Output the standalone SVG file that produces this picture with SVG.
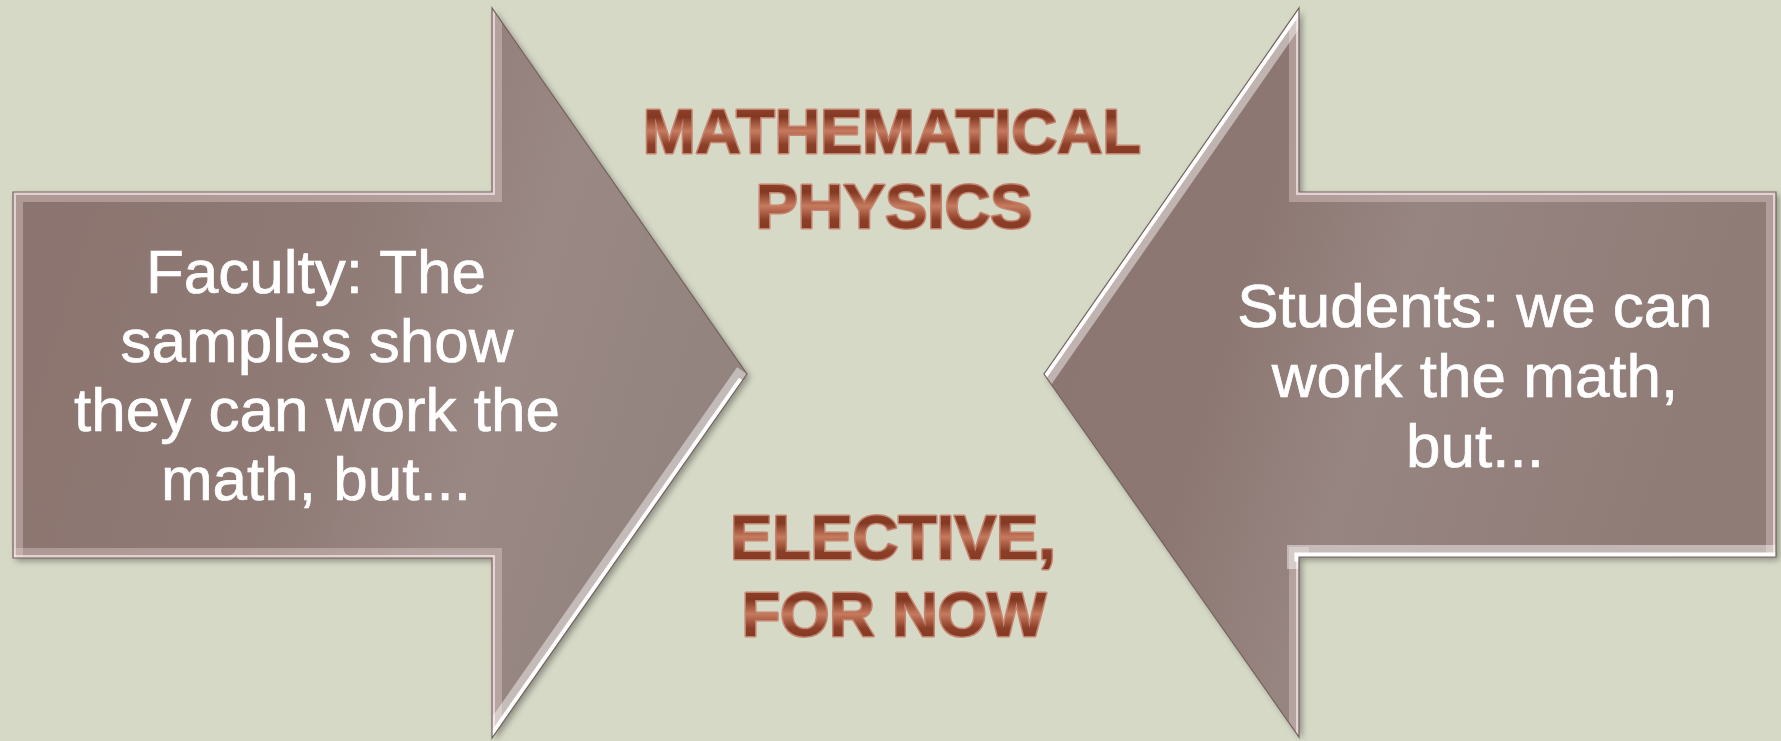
<svg xmlns="http://www.w3.org/2000/svg" width="1781" height="741" viewBox="0 0 1781 741">
<defs>
<style>
.body{font-family:"Liberation Sans",Arial,sans-serif;font-size:62px;fill:#ffffff;stroke:#ffffff;stroke-width:0.7;text-anchor:middle}
.copper{font-family:"Liberation Sans",Arial,sans-serif;font-weight:bold;font-size:63px;text-anchor:middle;fill:url(#cu);stroke:#c48470;stroke-width:3;paint-order:stroke;stroke-linejoin:round}
.hiW{fill:none;stroke:#ffffff;stroke-opacity:0.45;stroke-width:24;stroke-linecap:square}
.hiN{fill:none;stroke:#ffffff;stroke-opacity:1;stroke-width:9;stroke-linecap:square}
.loW{fill:none;stroke:#f0dcdc;stroke-opacity:0.35;stroke-width:20;stroke-linecap:square}
.loN{fill:none;stroke:#f6e8e8;stroke-opacity:0.7;stroke-width:6;stroke-linecap:square}
.edge{fill:none;stroke:#75625e;stroke-width:1.2}
</style>
<linearGradient id="gl" x1="0" y1="0" x2="1" y2="0.3">
<stop offset="0" stop-color="#8b736d"/>
<stop offset="0.5" stop-color="#8f7a75"/>
<stop offset="0.75" stop-color="#9a8884"/>
<stop offset="1" stop-color="#938480"/>
</linearGradient>
<linearGradient id="gr" x1="0" y1="0" x2="1" y2="0.3">
<stop offset="0" stop-color="#8c7671"/>
<stop offset="0.35" stop-color="#8d7772"/>
<stop offset="0.55" stop-color="#978581"/>
<stop offset="1" stop-color="#8f7b76"/>
</linearGradient>
<linearGradient id="cu" x1="0" y1="0" x2="0" y2="1">
<stop offset="0" stop-color="#a24e36"/>
<stop offset="0.3" stop-color="#823822"/>
<stop offset="0.5" stop-color="#c67a5e"/>
<stop offset="0.7" stop-color="#8c3f28"/>
<stop offset="1" stop-color="#7c3420"/>
</linearGradient>
<clipPath id="cl"><polygon points="13,192 492,192 492,8 747,374 492,738 492,558 13,558"/></clipPath>
<clipPath id="cr"><polygon points="1776,192 1299,192 1299,8 1044,374 1299,737 1299,557 1776,557"/></clipPath>
<filter id="sh" x="-5%" y="-5%" width="110%" height="110%">
<feDropShadow dx="3" dy="3" stdDeviation="3" flood-color="#000" flood-opacity="0.35"/>
</filter>
</defs>
<rect width="1781" height="741" fill="#d6d9c6"/>
<g id="connectors"></g>
<g id="faculty">
<polygon points="13,192 492,192 492,8 747,374 492,738 492,558 13,558" fill="url(#gl)" filter="url(#sh)"/>
<g clip-path="url(#cl)">
<polyline class="loW" points="13,558 13,192 492,192 492,8"/>
<polyline class="loN" points="13,558 13,192 492,192 492,8"/>
<polyline class="loW" points="13,558 492,558 492,738"/>
<polyline class="loN" points="13,558 492,558 492,738"/>
<line class="hiW" x1="740" y1="384" x2="492" y2="738"/>
<line class="hiN" x1="740" y1="384" x2="492" y2="738"/>
</g>
<polygon class="edge" points="13,192 492,192 492,8 747,374 492,738 492,558 13,558"/>
<text class="body" x="316" y="293">Faculty: The</text>
<text class="body" x="317" y="362">samples show</text>
<text class="body" x="317" y="431">they can work the</text>
<text class="body" x="316" y="500">math, but...</text>
</g>
<g id="students">
<polygon points="1776,192 1299,192 1299,8 1044,374 1299,737 1299,557 1776,557" fill="url(#gr)" filter="url(#sh)"/>
<g clip-path="url(#cr)">
<polyline class="loW" points="1299,8 1299,192 1776,192 1776,557"/>
<polyline class="loN" points="1299,8 1299,192 1776,192 1776,557"/>
<line class="loW" x1="1299" y1="557" x2="1299" y2="737"/>
<line class="loN" x1="1299" y1="557" x2="1299" y2="737"/>
<line class="hiW" x1="1299" y1="8" x2="1044" y2="374"/>
<line class="hiN" x1="1299" y1="8" x2="1044" y2="374"/>
<line class="hiW" x1="1299" y1="557" x2="1776" y2="557"/>
<line class="hiN" x1="1299" y1="557" x2="1776" y2="557"/>
</g>
<polygon class="edge" points="1776,192 1299,192 1299,8 1044,374 1299,737 1299,557 1776,557"/>
<text class="body" x="1475" y="327">Students: we can</text>
<text class="body" x="1475" y="397">work the math,</text>
<text class="body" x="1475" y="467">but...</text>
</g>
<g id="title">
<text class="copper" x="892" y="153">MATHEMATICAL</text>
<text class="copper" x="894" y="228">PHYSICS</text>
</g>
<g id="elective">
<text class="copper" x="893" y="559">ELECTIVE,</text>
<text class="copper" x="894" y="636">FOR NOW</text>
</g>
</svg>
